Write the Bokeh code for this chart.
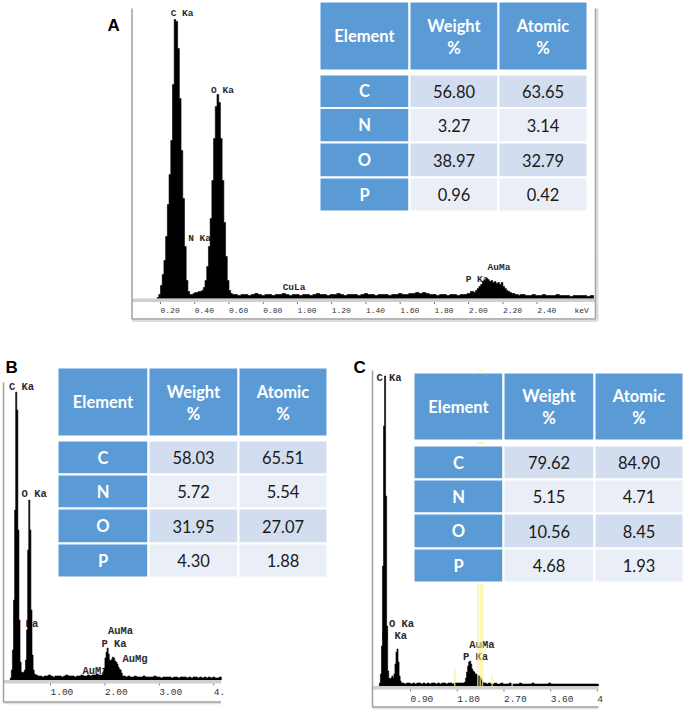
import numpy as np
from bokeh.plotting import figure
from bokeh.models import Range1d
from bokeh.core.properties import value
from bokeh.embed import file_html
from bokeh.resources import INLINE

# ---------------- data ----------------
ELEMENTS = ["C", "N", "O", "P"]
HEADER_TOP = ["Element", "Weight", "Atomic"]
HEADER_BOTTOM = ["", "%", "%"]

A_WEIGHT = [56.80, 3.27, 38.97, 0.96]
A_ATOMIC = [63.65, 3.14, 32.79, 0.42]
B_WEIGHT = [58.03, 5.72, 31.95, 4.30]
B_ATOMIC = [65.51, 5.54, 27.07, 1.88]
C_WEIGHT = [79.62, 5.15, 10.56, 4.68]
C_ATOMIC = [84.90, 4.71, 8.45, 1.93]

# spectra: (first channel keV, channel width keV, counts per channel)
A_SPECTRUM = [
    (0.18, 0.01, [1, 4, 13, 24, 38, 62, 94, 124, 158, 214, 279, 277, 250, 200, 148, 100, 52, 18, 7, 4,
                  4, 5, 6, 6, 7, 7, 8, 11, 18, 32, 52, 80, 118, 160, 192, 204, 196, 160, 118, 76,
                  42, 18, 8, 5, 4]),
    (0.63, 0.02, [4, 3, 4, 4, 3, 4, 5, 4, 3, 4, 4, 3, 4, 4, 5, 4, 3, 4, 4, 3,
                  4, 4, 3, 4, 5, 4, 4, 3, 4, 4, 5, 4, 3, 4, 4, 4, 3, 4, 5, 4,
                  4, 3, 4, 4, 4, 3, 4, 4, 5, 4, 4, 5, 5, 6, 5, 6, 5, 4, 4, 3,
                  4, 4, 3, 4, 4, 3, 4, 4, 5, 7]),
    (2.03, 0.01, [6, 8, 10, 12, 14, 17, 18, 20, 19, 17, 18, 16, 17, 15, 16, 14, 16, 12, 10, 8,
                  7, 6, 5, 5, 4, 4, 3, 4]),
    (2.31, 0.02, [4, 3, 3, 4, 3, 3, 4, 3, 3, 3, 4, 3, 3, 3, 2, 3, 3, 3, 3, 2, 3]),
]
B_SPECTRUM = [
    (0.26, 0.02, [2, 10, 30, 80, 170, 288, 270, 150, 60, 18, 8, 7, 8, 10, 20, 50, 130, 180, 150, 70,
                  25, 10, 6]),
    (0.72, 0.04, [5, 4, 4, 3, 4, 4, 5, 4, 3, 4, 4, 4, 3, 4, 5, 4, 4, 4, 3, 4,
                  4, 5, 4, 4, 5, 4, 5, 5, 6, 5, 5]),
    (1.96, 0.02, [6, 12, 22, 28, 32, 26, 20, 19, 21, 23, 22, 19, 18, 16, 13, 11, 10, 7, 4]),
    (2.34, 0.04, [4, 3, 4, 3, 3, 4, 3, 3, 3, 4, 3, 3, 3, 3, 4, 3, 3, 2, 3, 3,
                  3, 3, 2, 3, 3, 2, 3, 3, 3, 2, 3, 2, 3, 3, 2, 3, 2, 3, 2, 3,
                  2, 3, 2, 2, 3]),
]
C_SPECTRUM = [
    (0.30, 0.02, [3, 12, 40, 120, 260, 310, 190, 60, 15, 8, 7, 8, 10, 8, 12, 22, 34, 37, 24, 10,
                  5, 3]),
    (0.74, 0.04, [3, 2, 3, 3, 2, 3, 2, 3, 3, 2, 3, 2, 3, 2, 3, 3, 2, 3, 2, 3,
                  3, 2, 3, 3, 2, 3, 3, 3, 3, 3]),
    (1.94, 0.02, [4, 8, 14, 20, 24, 25, 22, 17, 15, 14, 12, 12, 11, 10, 10, 8, 6, 4, 3]),
    (2.32, 0.04, [3, 2, 3, 2, 2, 3, 2, 2, 3, 2, 2, 2, 3, 2, 2, 2, 2, 3, 2, 2,
                  2, 2, 2, 3, 2, 2, 2, 2, 2, 2, 2, 3, 2, 2, 2, 2, 2, 2, 2, 2,
                  2, 2, 2, 2, 2, 2, 2, 2, 2, 2, 2, 2, 2, 2, 2]),
]

A_TICKS = [0.2, 0.4, 0.6, 0.8, 1.0, 1.2, 1.4, 1.6, 1.8, 2.0, 2.2, 2.4]
A_TICK_LABELS = ["0.20", "0.40", "0.60", "0.80", "1.00", "1.20", "1.40", "1.60", "1.80", "2.00", "2.20", "2.40"]
B_TICKS = [1.0, 2.0, 3.0, 4.0]
B_TICK_LABELS = ["1.00", "2.00", "3.00", "4."]
C_TICKS = [0.9, 1.8, 2.7, 3.6, 4.5]
C_TICK_LABELS = ["0.90", "1.80", "2.70", "3.60", "4"]

A_LINES = ["C Ka", "N Ka", "O Ka", "CuLa", "P Ka", "AuMa"]
A_LINE_KEV = [0.326, 0.428, 0.562, 0.98, 2.049, 2.177]
A_LINE_CTS = [285, 60, 208, 11, 19, 31]
B_LINES = ["C Ka", "N Ka", "O Ka", "AuMz", "P Ka", "AuMa", "AuMg"]
B_LINE_KEV = [0.467, 0.542, 0.70, 1.818, 2.167, 2.287, 2.553]
B_LINE_CTS = [293, 56.5, 186, 9.5, 36.5, 49, 21.5]
C_LINES = ["C Ka", "N Ka", "O Ka", "P Ka", "AuMa"]
C_LINE_KEV = [0.486, 0.59, 0.726, 2.152, 2.277]
C_LINE_CTS = [308.5, 50.5, 62.5, 29.5, 41.5]

C_MARKER_KEV = [1.753, 2.197, 2.243, 2.287, 2.474, 2.859]
C_MARKER_CTS = [17, 316, 316, 316, 10, 3]

# ---------------- layout (page pixel coordinates) ----------------
X0, X1, Y0, Y1 = 0, 685, 0, 710
GEO = {
    "A": dict(x0=125.76, kx=171.2, yb=298.0, left=131.5, right=595.0, top=8.0, bottom=318.5,
              tick_y=309.5, tick_size="8px", label_size="9.5px", rborder=True,
              letter=(107, 24.5),
              cols=[319, 409, 498, 587], head=(1, 70), rows=[74, 107.5, 142, 177, 211]),
    "B": dict(x0=-4.4, kx=54.4, yb=679.5, left=3.0, right=220.5, top=382.0, bottom=701.5,
              tick_y=691.5, tick_size="9.5px", label_size="10.5px", rborder=False,
              letter=(5, 367),
              cols=[57, 148, 238, 327], head=(367, 436), rows=[440, 474, 508, 543, 577]),
    "C": dict(x0=363.3, kx=51.9, yb=685.5, left=372.0, right=598.0, top=370.0, bottom=706.5,
              tick_y=698.0, tick_size="9.5px", label_size="10.5px", rborder=False,
              letter=(353, 367),
              cols=[413, 503, 594, 683], head=(372, 440), rows=[445, 479, 513, 548, 582]),
}

BLUE = "#5b9bd5"
BAND_DARK = "#d2deef"
BAND_LIGHT = "#eaeff7"
MONO = value("Liberation Mono")
SANS = value("Lato")
TFS = "16.5px"

p = figure(width=X1 - X0, height=Y1 - Y0, x_range=Range1d(X0, X1), y_range=Range1d(Y1, Y0),
           output_backend="svg", toolbar_location=None, min_border=0,
           x_axis_location=None, y_axis_location=None)
p.grid.visible = False
p.outline_line_color = None
p.background_fill_color = "white"


def step_outline(segments):
    xs, ys = [], []
    for e0, de, cts in segments:
        for i, c in enumerate(cts):
            l = e0 + i * de
            xs += [l, l + de]
            ys += [c, c]
    return [xs[0]] + xs + [xs[-1]], [0] + ys + [0]


def draw_panel(key, spectrum, ticks, tick_labels, lines, line_kev, line_cts, weight, atomic,
               markers=None):
    g = GEO[key]
    xr, yr = "e" + key, "c" + key
    p.extra_x_ranges[xr] = Range1d((X0 - g["x0"]) / g["kx"], (X1 - g["x0"]) / g["kx"])
    p.extra_y_ranges[yr] = Range1d(g["yb"] - Y1, g["yb"] - Y0)

    # peak labels (behind the spectrum)
    p.text(x=line_kev, y=line_cts, text=lines, x_range_name=xr, y_range_name=yr,
           text_font=MONO, text_font_style="bold", text_font_size=g["label_size"],
           text_color="#2b2b2b", text_align="center", text_baseline="middle")

    # spectrum
    xs, ys = step_outline(spectrum)
    p.patch(xs, ys, x_range_name=xr, y_range_name=yr, fill_color="black",
            line_color="black", line_width=0.6)

    # baseline band
    p.quad(left=[g["left"]], right=[g["right"]], top=[g["yb"]], bottom=[g["yb"] + 3.5],
           fill_color="#cfcfcf", line_color=None)
    # tick marks and labels
    p.segment(x0=ticks, x1=ticks, y0=[g["yb"] + 3.5] * len(ticks), y1=[g["yb"] + 5.5] * len(ticks),
              x_range_name=xr, line_color="#777777", line_width=1)
    p.text(x=ticks, y=[g["tick_y"]] * len(ticks), text=tick_labels, x_range_name=xr,
           text_font=MONO, text_font_size=g["tick_size"], text_color="#333333",
           text_align="left", text_baseline="middle")

    # frame lines
    if g["rborder"]:
        p.line([g["right"] + 2, g["right"] + 2], [g["top"], g["bottom"] + 2], line_color="#dcdcdc", line_width=2)
        p.line([g["left"], g["right"] + 2], [g["bottom"] + 2, g["bottom"] + 2], line_color="#dcdcdc", line_width=2)
        p.line([g["left"], g["left"], g["right"], g["right"]], [g["top"], g["bottom"], g["bottom"], g["top"]],
               line_color="#a0a0a0", line_width=1.5)
    else:
        p.line([g["left"], g["right"]], [g["bottom"] + 1.5, g["bottom"] + 1.5], line_color="#e0e0e0", line_width=1.5)
        p.line([g["left"], g["left"], g["right"]], [g["top"], g["bottom"], g["bottom"]],
               line_color="#a0a0a0", line_width=1.5)

    if markers is not None:
        mk, mc = markers
        p.segment(x0=mk, x1=mk, y0=[0] * len(mk), y1=mc, x_range_name=xr, y_range_name=yr,
                  line_color="#f4ef93", line_width=1.5, line_alpha=0.75)

    # table
    cols, (h0, h1), rows = g["cols"], g["head"], g["rows"]
    p.quad(left=cols[:-1], right=cols[1:], top=[h0] * 3, bottom=[h1] * 3,
           fill_color=BLUE, line_color="white", line_width=2)
    n = len(ELEMENTS)
    lefts, rights, tops, bots, fills = [], [], [], [], []
    for i in range(n):
        for j in range(3):
            lefts.append(cols[j]); rights.append(cols[j + 1])
            tops.append(rows[i]); bots.append(rows[i + 1])
            fills.append(BLUE if j == 0 else (BAND_DARK if i % 2 == 0 else BAND_LIGHT))
    p.quad(left=lefts, right=rights, top=tops, bottom=bots, fill_color=fills,
           line_color="white", line_width=2)

    cx = [(cols[j] + cols[j + 1]) / 2 for j in range(3)]
    hc = (h0 + h1) / 2
    p.text(x=[cx[0]], y=[hc], text=[HEADER_TOP[0]], text_font=SANS, text_font_style="bold",
           text_font_size=TFS, text_color="white", text_align="center", text_baseline="middle")
    p.text(x=cx[1:], y=[hc - 10.5] * 2, text=HEADER_TOP[1:], text_font=SANS, text_font_style="bold",
           text_font_size=TFS, text_color="white", text_align="center", text_baseline="middle")
    p.text(x=cx[1:], y=[hc + 11.5] * 2, text=HEADER_BOTTOM[1:], text_font=SANS, text_font_style="bold",
           text_font_size=TFS, text_color="white", text_align="center", text_baseline="middle")
    rc = [(rows[i] + rows[i + 1]) / 2 for i in range(n)]
    p.text(x=[cx[0]] * n, y=rc, text=ELEMENTS, text_font=SANS, text_font_style="bold",
           text_font_size=TFS, text_color="white", text_align="center", text_baseline="middle")
    p.text(x=[cx[1]] * n, y=rc, text=[f"{v:.2f}" for v in weight], text_font=SANS,
           text_font_size=TFS, text_color="#1a1a1a", text_align="center", text_baseline="middle")
    p.text(x=[cx[2]] * n, y=rc, text=[f"{v:.2f}" for v in atomic], text_font=SANS,
           text_font_size=TFS, text_color="#1a1a1a", text_align="center", text_baseline="middle")

    # panel letter
    lx, ly = g["letter"]
    p.text(x=[lx], y=[ly], text=[key], text_font=value("Liberation Sans"), text_font_style="bold",
           text_font_size="17px", text_color="black", text_align="left", text_baseline="alphabetic")


draw_panel("A", A_SPECTRUM, A_TICKS, A_TICK_LABELS, A_LINES, A_LINE_KEV, A_LINE_CTS, A_WEIGHT, A_ATOMIC)
p.text(x=[574], y=[GEO["A"]["tick_y"]], text=["keV"], text_font=MONO, text_font_size="8px",
       text_color="#333333", text_align="left", text_baseline="middle")
draw_panel("B", B_SPECTRUM, B_TICKS, B_TICK_LABELS, B_LINES, B_LINE_KEV, B_LINE_CTS, B_WEIGHT, B_ATOMIC)
draw_panel("C", C_SPECTRUM, C_TICKS, C_TICK_LABELS, C_LINES, C_LINE_KEV, C_LINE_CTS, C_WEIGHT, C_ATOMIC,
           markers=(C_MARKER_KEV, C_MARKER_CTS))

open("out.html", "w").write(file_html(p, INLINE))
